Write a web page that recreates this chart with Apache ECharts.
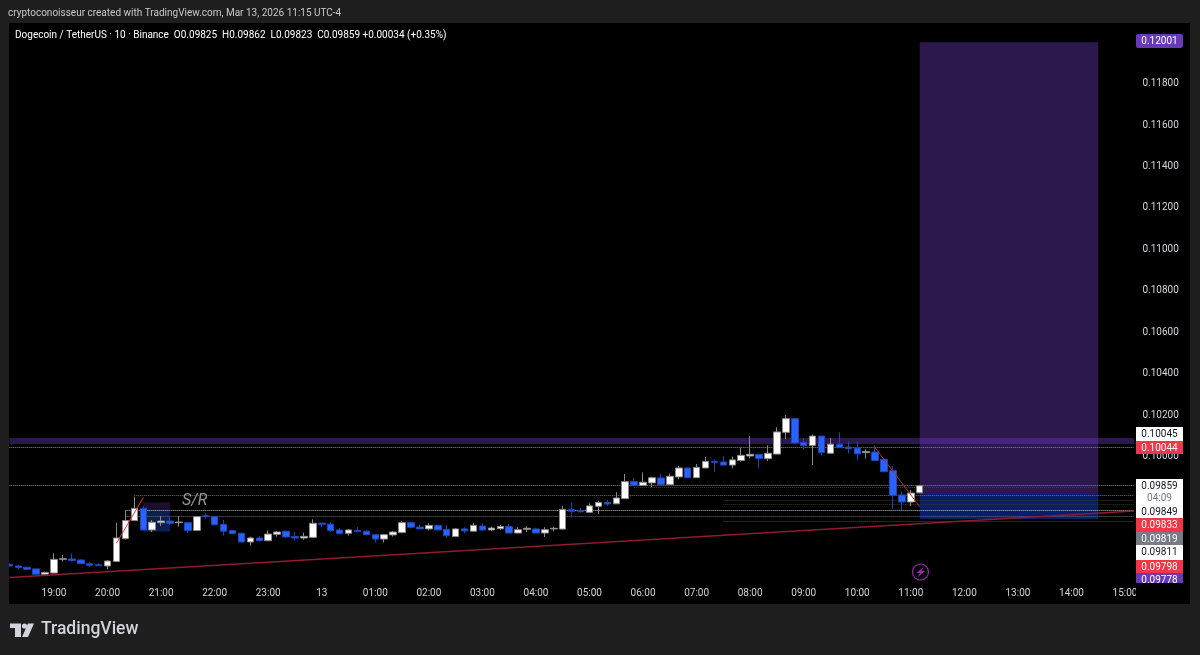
<!DOCTYPE html>
<html>
<head>
<meta charset="utf-8">
<style>html,body{margin:0;padding:0;background:#1e1e1e}#chart{width:1200px;height:655px}</style>
<script src="https://cdn.jsdelivr.net/npm/echarts@6/dist/echarts.min.js"></script>
</head>
<body>
<div id="chart"></div>
<script>
// candles, 10 min each, from 18:10 on Mar 12
const opens = [.09480,.09472,.09466,.09458,.09432,.09438,.09504,.09506,.09501,.09483,.09478,.09472,.09494,.09604,.09691,.09750,.09646,.09681,.09689,.09681,.09681,.09643,.09715,.09710,.09673,.09643,.09630,.09588,.09607,.09594,.09625,.09640,.09614,.09607,.09610,.09679,.09674,.09646,.09630,.09643,.09640,.09623,.09602,.09622,.09633,.09681,.09660,.09651,.09668,.09649,.09614,.09651,.09640,.09665,.09646,.09652,.09662,.09631,.09649,.09651,.09631,.09651,.09650,.09744,.09739,.09731,.09760,.09779,.09772,.09797,.09879,.09861,.09873,.09897,.09865,.09902,.09945,.09898,.09945,.09977,.09974,.09959,.09981,.10003,.10011,.09990,.10012,.10117,.10183,.10069,.10054,.10099,.10016,.10060,.10046,.10041,.10019,.10022,.09987,.09932,.09815,.09781,.09825];
const closes = [.09472,.09464,.09456,.09432,.09441,.09504,.09507,.09499,.09483,.09475,.09473,.09496,.09607,.09691,.09750,.09646,.09683,.09689,.09678,.09684,.09643,.09710,.09710,.09671,.09640,.09628,.09588,.09607,.09594,.09626,.09636,.09612,.09607,.09615,.09678,.09673,.09643,.09628,.09646,.09638,.09623,.09602,.09623,.09636,.09681,.09659,.09651,.09668,.09646,.09618,.09651,.09641,.09668,.09646,.09655,.09662,.09631,.09647,.09654,.09631,.09647,.09654,.09745,.09736,.09734,.09762,.09778,.09771,.09800,.09879,.09861,.09876,.09898,.09865,.09905,.09945,.09898,.09948,.09977,.09972,.09959,.09984,.10006,.10011,.09990,.10016,.10119,.10183,.10066,.10054,.10099,.10019,.10060,.10043,.10038,.10013,.10024,.09981,.09927,.09813,.09781,.09824,.09859];
const lows = [.09469,.09456,.09454,.09431,.09427,.09437,.09493,.09493,.09482,.09466,.09472,.09456,.09493,.09600,.09690,.09645,.09636,.09665,.09670,.09662,.09630,.09642,.09699,.09668,.09618,.09627,.09585,.09570,.09590,.09593,.09614,.09607,.09594,.09598,.09609,.09659,.09636,.09626,.09618,.09634,.09620,.09585,.09585,.09614,.09630,.09654,.09649,.09643,.09644,.09609,.09612,.09630,.09638,.09641,.09641,.09647,.09630,.09630,.09634,.09630,.09612,.09638,.09649,.09705,.09729,.09729,.09723,.09761,.09771,.09796,.09858,.09858,.09852,.09861,.09864,.09890,.09897,.09897,.09944,.09927,.09958,.09943,.09976,.09992,.09943,.09979,.10011,.10085,.10061,.10034,.09959,.10006,.10015,.10042,.10016,.09981,.09990,.09980,.09926,.09749,.09742,.09761,.09823];
const highs = [.09485,.09477,.09468,.09459,.09445,.09533,.09525,.09533,.09503,.09490,.09485,.09501,.09681,.09739,.09807,.09762,.09694,.09713,.09710,.09713,.09686,.09713,.09726,.09713,.09694,.09644,.09633,.09614,.09614,.09643,.09641,.09643,.09636,.09633,.09697,.09680,.09684,.09654,.09649,.09659,.09644,.09625,.09626,.09641,.09691,.09686,.09670,.09678,.09670,.09670,.09654,.09659,.09681,.09678,.09662,.09670,.09675,.09659,.09665,.09657,.09659,.09662,.09762,.09778,.09752,.09774,.09787,.09791,.09828,.09916,.09898,.09924,.09903,.09916,.09918,.09955,.09946,.09964,.09998,.09987,.10003,.10000,.10043,.10099,.10012,.10054,.10141,.10201,.10184,.10088,.10107,.10100,.10091,.10117,.10074,.10074,.10035,.10054,.09988,.09955,.09831,.09839,.09862];
const priceTicks = [.118,.116,.114,.112,.110,.108,.106,.104,.102,.100];
const trendIdx = [0, 126];
const trendPrices = [.09416, .09737];
const riseA = [[12, .09582], [15, .09802]];
const riseB = [[97, .10043], [102, .09758]];
const bandPrices = [.10090, .10061];
const targetPrices = [.12001, .09820];
const stopPrices = [.09820, .09699];
const levelPrices = [.10046, .09860, .09852, .09813, .09787, .09768, .09739, .09712, .09689];
const tagTexts = ['0.10045','0.10044','0.09859','04:09','0.09849','0.09833','0.09819','0.09811','0.09798','0.09778'];
const tagColors = ['#ffffff','#f23645','#ffffff','#ffffff','#ffffff','#f23645','#787b86','#ffffff','#f23645','#673ab7'];
const tagInk = ['#131722','#ffffff','#131722','#787b86','#131722','#ffffff','#ffffff','#131722','#ffffff','#ffffff'];
const tagTops = [427, 441, 479, 491, 505, 518, 532, 545, 560, 573];
const tagBottoms = [441, 454, 491, 505, 518, 532, 545, 560, 573, 583];

const font = 'Roboto, "Noto Sans", sans-serif';

// hour labels run 18:10 .. 15:10 next day
const categories = [];
for (let i = 0; i < 127; i++) {
  const m = 18 * 60 + 10 + i * 10;
  const h = Math.floor(m / 60) % 24;
  const mm = m % 60;
  categories.push(h === 0 && mm === 0 ? '13' : (h < 10 ? '0' + h : '' + h) + ':' + (mm < 10 ? '0' + mm : mm));
}
const isHour = (i, v) => v === '13' || v.endsWith(':00');

const candles = opens.map((o, i) => [o, closes[i], lows[i], highs[i]]);

function level(from, to, price, color, width) {
  return [
    { coord: [from, price], lineStyle: { color: color, width: width, type: 'dotted' } },
    { coord: [to, price] }
  ];
}

function tag(text, top, bottom, fill, ink) {
  return [
    { type: 'rect', z: 50, shape: { x: 1136, y: top, width: 47, height: bottom - top }, style: { fill: fill } },
    { type: 'text', z: 51, x: 1159.5, y: top + 7, style: { text: text, fill: ink, font: '10px ' + font, textAlign: 'center', textVerticalAlign: 'middle' } }
  ];
}

let tags = [];
tagTexts.forEach((t, i) => {
  tags = tags.concat(tag(t, tagTops[i], tagBottoms[i], tagColors[i], tagInk[i]));
});

const option = {
  animation: false,
  backgroundColor: '#1e1e1e',
  textStyle: { fontFamily: font },
  title: [
    { text: 'cryptoconoisseur created with TradingView.com, Mar 13, 2026 11:15 UTC-4', left: 8, top: 8, padding: 0, textStyle: { color: '#c8c8c8', fontSize: 10, fontWeight: 'normal', fontFamily: font } },
    { text: 'Dogecoin / TetherUS · 10 · Binance  O0.09825  H0.09862  L0.09823  C0.09859 +0.00034 (+0.35%)', left: 15, top: 30, padding: 0, textStyle: { color: '#ffffff', fontSize: 10, fontWeight: 'normal', fontFamily: font } }
  ],
  grid: { left: 4.91, top: 42.2, width: 1133.5, height: 538.7 },
  xAxis: {
    type: 'category',
    data: categories,
    axisLine: { show: false },
    axisTick: { show: false },
    splitLine: { show: false },
    axisLabel: { interval: isHour, color: '#d1d4dc', fontSize: 10, margin: 8, hideOverlap: false }
  },
  yAxis: {
    type: 'value',
    position: 'right',
    min: 0.094,
    max: 0.12,
    interval: 0.002,
    axisLine: { show: false },
    axisTick: { show: false },
    splitLine: { show: false },
    axisLabel: { customValues: priceTicks, color: '#d1d4dc', fontSize: 10, margin: 4, formatter: v => v.toFixed(5) }
  },
  graphic: {
    elements: [
      { type: 'rect', z: -10, silent: true, shape: { x: 9, y: 23, width: 1181, height: 581 }, style: { fill: '#000000' } },
      { type: 'rect', z: 40, shape: { x: 0, y: 23, width: 9, height: 581 }, style: { fill: '#1e1e1e' } },
      { type: 'rect', z: 40, shape: { x: 1136, y: 584, width: 54, height: 20 }, style: { fill: '#000000' } },
      { type: 'text', z: 45, x: 182, y: 493, style: { text: 'S/R', fill: '#969696', font: 'italic 16px ' + font } },
      { type: 'rect', z: 50, shape: { x: 1136, y: 34, width: 47, height: 14, r: 2 }, style: { fill: '#673ab7' } },
      { type: 'text', z: 51, x: 1159.5, y: 41, style: { text: '0.12001', fill: '#ffffff', font: '10px ' + font, textAlign: 'center', textVerticalAlign: 'middle' } },
      { type: 'circle', z: 45, shape: { cx: 920.5, cy: 572, r: 8 }, style: { fill: 'none', stroke: '#9c27b0', lineWidth: 1.2 } },
      { type: 'polygon', z: 45, shape: { points: [[924, 566.5], [916.5, 573], [920, 573], [917.5, 577.5], [925, 571], [921.5, 571]] }, style: { fill: '#9c27b0' } },
      // logo
      { type: 'polygon', z: 45, shape: { points: [[10, 623.5], [21, 623.5], [21, 637], [15, 637], [15, 628], [10, 628]] }, style: { fill: '#d1d4dc' } },
      { type: 'circle', z: 45, shape: { cx: 24.5, cy: 626, r: 2.6 }, style: { fill: '#d1d4dc' } },
      { type: 'polygon', z: 45, shape: { points: [[28, 623.5], [34, 623.5], [28, 637], [22, 637]] }, style: { fill: '#d1d4dc' } },
      { type: 'text', z: 45, x: 41, y: 621, style: { text: 'TradingView', fill: '#d1d4dc', font: '500 17.5px ' + font } }
    ].concat(tags)
  },
  series: [
    {
      type: 'candlestick',
      data: candles,
      z: 5,
      barWidth: 7,
      clip: true,
      itemStyle: { color: '#ffffff', color0: '#2962ff', borderColor: '#8a8a8a', borderColor0: '#1c46b8', borderWidth: 1 }
    },
    {
      // position tool and zones, drawn over the candles
      type: 'line',
      data: [],
      z: 6,
      markArea: {
        silent: true,
        data: [
          [{ coord: [0, bandPrices[0]], itemStyle: { color: 'rgba(103,58,183,0.42)' } }, { coord: [126, bandPrices[1]] }],
          [{ coord: [102, targetPrices[0]], itemStyle: { color: 'rgba(103,58,183,0.42)' } }, { coord: [122, targetPrices[1]] }],
          [{ coord: [102, stopPrices[0]], itemStyle: { color: 'rgba(20,70,255,0.42)' } }, { coord: [122, stopPrices[1]] }],
          [{ coord: [15, .09779], itemStyle: { color: 'rgba(103,58,183,0.25)' } }, { coord: [18, .09742] }],
          [{ coord: [15, .09742], itemStyle: { color: 'rgba(41,98,255,0.3)' } }, { coord: [18, .09638] }]
        ]
      }
    },
    {
      type: 'line',
      data: [],
      z: 7,
      markLine: {
        silent: true,
        symbol: 'none',
        label: { show: false },
        data: [
          level(0, 126, levelPrices[0], '#8c8c8c', 1),
          level(0, 126, levelPrices[1], '#8c8c8c', 1),
          level(70, 122, levelPrices[2], '#3c3c3c', 1),
          level(14, 126, levelPrices[3], '#707070', 1),
          level(80, 126, levelPrices[4], '#3d3720', 1),
          level(80, 126, levelPrices[5], '#3d3720', 1),
          level(13, 126, levelPrices[6], '#c4c4c4', 1),
          level(13, 126, levelPrices[7], '#707070', 1),
          level(80, 126, levelPrices[8], '#4a4a4a', 1)
        ]
      }
    },
    {
      type: 'line',
      z: 8,
      symbol: 'none',
      silent: true,
      data: trendIdx.map((x, i) => [x, trendPrices[i]]),
      lineStyle: { color: '#8f1c2e', width: 1.5 }
    },
    {
      type: 'line', z: 8, symbol: 'none', silent: true, data: riseA,
      lineStyle: { color: '#f23645', width: 1 }
    },
    {
      type: 'line', z: 8, symbol: 'none', silent: true, data: riseB,
      lineStyle: { color: '#b5283c', width: 1 }
    }
  ]
};

const chart = echarts.init(document.getElementById('chart'), null, { renderer: 'canvas' });
chart.setOption(option);
</script>
</body>
</html>
